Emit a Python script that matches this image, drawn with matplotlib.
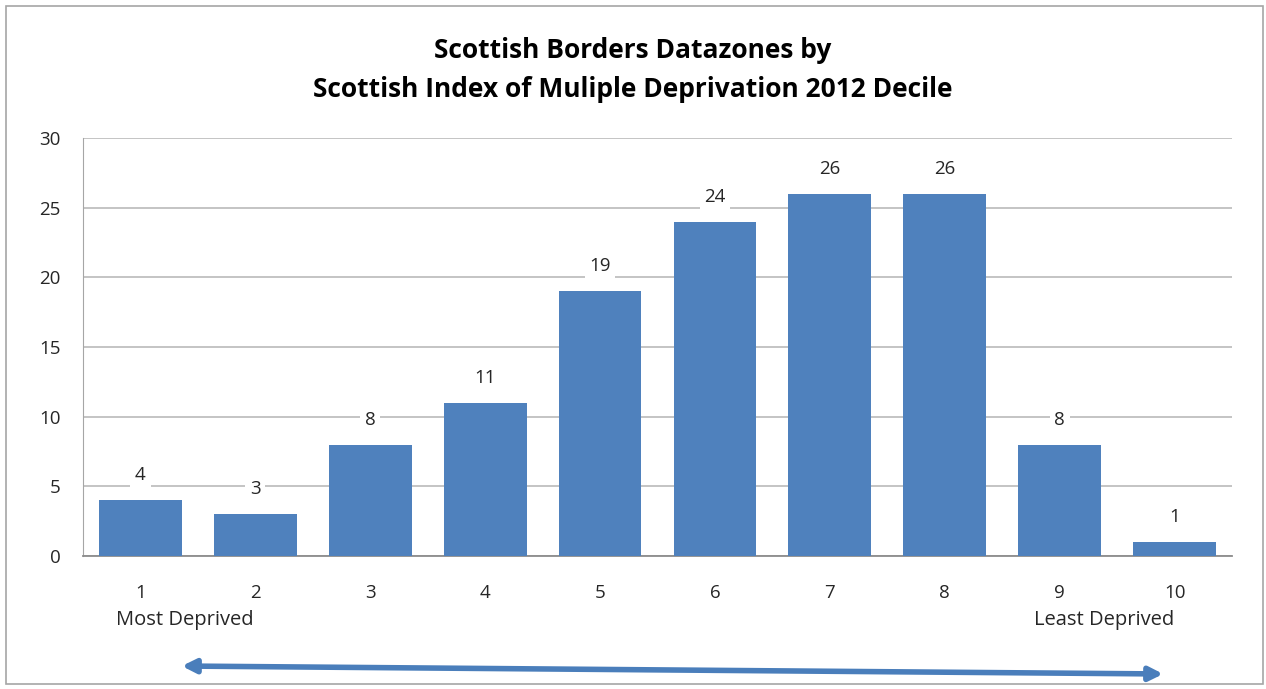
import matplotlib
matplotlib.use("Agg")
import matplotlib.pyplot as plt
from matplotlib.patches import FancyArrowPatch, Rectangle

deciles = ["1", "2", "3", "4", "5", "6", "7", "8", "9", "10"]
counts = [4, 3, 8, 11, 19, 24, 26, 26, 8, 1]
yticks = [0, 5, 10, 15, 20, 25, 30]
title = "Scottish Borders Datazones by\nScottish Index of Muliple Deprivation 2012 Decile"

BAR = "#4F81BD"
FONT = ["Liberation Sans Narrow", "Open Sans", "DejaVu Sans"]
plt.rcParams["font.family"] = FONT

fig = plt.figure(figsize=(12.66, 6.89), dpi=100)
W, H = 1266, 689

# outer chart frame
fig.patches.append(Rectangle((6 / W, 1 - 684 / H), 1257 / W, 678 / H,
                             transform=fig.transFigure, fill=False,
                             edgecolor="#A6A6A6", lw=1.2))

ax = fig.add_axes([83 / W, 1 - 556 / H, (1232 - 83) / W, (556 - 138) / H])
x = range(len(counts))
ax.bar(x, counts, width=0.72, color=BAR, zorder=3)
ax.set_xlim(-0.5, len(counts) - 0.5)
ax.set_ylim(0, 30)
ax.set_yticks(yticks)
ax.set_xticks(list(x))
ax.set_xticklabels(deciles)
ax.tick_params(length=0, labelsize=13.5, colors="#262626")
ax.tick_params(axis="x", pad=20)
ax.tick_params(axis="y", pad=16)
ax.grid(axis="y", color="#BFBFBF", lw=1.3, zorder=0)
for s in ["top", "right"]:
    ax.spines[s].set_visible(False)
ax.spines["left"].set_color("#A6A6A6")
ax.spines["bottom"].set_color("#8C8C8C")
ax.spines["bottom"].set_linewidth(1.3)

for xi, v in zip(x, counts):
    ax.annotate(str(v), (xi, v), xytext=(0, 18), textcoords="offset points",
                ha="center", va="center", fontsize=13.5, color="#262626",
                bbox=dict(boxstyle="square,pad=0.25", fc="white", ec="none"),
                zorder=4)

fig.text(116 / W, 1 - 620 / H, "Most Deprived",
         ha="left", va="center", fontsize=14.5, color="#262626")
fig.text(1174 / W, 1 - 620 / H, "Least Deprived",
         ha="right", va="center", fontsize=14.5, color="#262626")

fig.text(633 / W, 1 - 70 / H, title, ha="center", va="center",
         fontsize=19, fontweight="bold", color="#000000", linespacing=1.55)

# decile direction arrow under the axis
arrow = FancyArrowPatch((179 / W, 1 - 666 / H), (1166 / W, 1 - 674 / H),
                        transform=fig.transFigure, arrowstyle="<|-|>",
                        mutation_scale=20, lw=4, color="#4A7EBB")
fig.patches.append(arrow)

fig.savefig("out.png", dpi=100)
